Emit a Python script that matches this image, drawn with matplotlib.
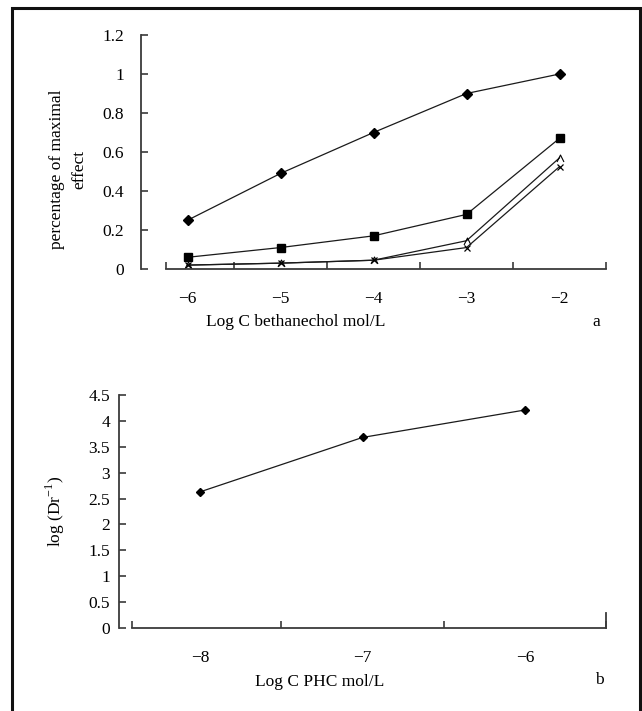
import numpy as np
import matplotlib
matplotlib.use("Agg")
import matplotlib.pyplot as plt
from matplotlib.patches import Rectangle
from matplotlib.path import Path

plt.rcParams['font.family'] = ['Liberation Serif', 'DejaVu Serif']
plt.rcParams['mathtext.fontset'] = 'custom'
plt.rcParams['mathtext.rm'] = 'Liberation Serif'
plt.rcParams['font.size'] = 12.5

# panel a: bethanechol concentration-response
cats_a = ["\u22126", "\u22125", "\u22124", "\u22123", "\u22122"]
s1 = [0.25, 0.49, 0.70, 0.90, 1.00]
s2 = [0.06, 0.11, 0.17, 0.28, 0.67]
s3 = [0.02, 0.03, 0.045, 0.145, 0.57]
s4 = [0.02, 0.03, 0.045, 0.11, 0.525]

# panel b: PHC
cats_b = ["\u22128", "\u22127", "\u22126"]
dr = [2.63, 3.68, 4.21]

W, H = 642, 711
fig = plt.figure(figsize=(W / 100, H / 100), dpi=100)

caret = Path([(-1, -1), (0, 1), (1, -1)], [Path.MOVETO, Path.LINETO, Path.LINETO])
axcol = '#3a3a3a'
lcol = '#1a1a1a'


def px(l, t, r, b):
    return [l / W, 1 - b / H, (r - l) / W, (b - t) / H]


def style(ax, n, yticks, ylim, ypad, start):
    ax.set_xlim(0.5, n + 0.5)
    ax.set_ylim(*ylim)
    for s in ['top', 'right']:
        ax.spines[s].set_visible(False)
    for s in ['left', 'bottom']:
        ax.spines[s].set_color(axcol)
        ax.spines[s].set_linewidth(1.3)
    ax.spines['bottom'].set_bounds(start, n + 0.5)
    ax.set_yticks(yticks)
    ax.set_yticklabels([f"{v:g}" for v in yticks])
    ax.tick_params(axis='y', direction='in', length=5, width=1.2, color=axcol, pad=ypad)
    x = np.arange(1, n + 1)
    ax.set_xticks(x)
    ax.tick_params(axis='x', which='major', length=0, pad=16)
    ax.set_xticks(list(np.arange(1.5, n + 0.6, 1.0)) + [start], minor=True)
    ax.tick_params(axis='x', which='minor', direction='in', length=5, width=1.2, color=axcol)
    ax.set_facecolor('none')
    return x


ax1 = fig.add_axes(px(141, 35, 606, 269))
x1 = style(ax1, 5, [0, 0.2, 0.4, 0.6, 0.8, 1, 1.2], (0, 1.2), 12, 0.77)
ax1.set_xticklabels(cats_a)
ax1.plot(x1, s1, color=lcol, lw=0.9, marker='D', ms=5, mfc='k', mec='k')
ax1.plot(x1, s2, color=lcol, lw=0.9, marker='s', ms=6, mfc='k', mec='k')
ax1.plot(x1, s3, color=lcol, lw=0.9, marker=caret, ms=5, mfc='none', mec='k', mew=0.8)
ax1.plot(x1, s4, color=lcol, lw=0.9, marker='x', ms=5, mec='k', mew=0.9)
for l in ax1.lines:
    l.set_clip_on(False)

ax2 = fig.add_axes(px(119, 395, 606, 628))
x2 = style(ax2, 3, [0, 0.5, 1, 1.5, 2, 2.5, 3, 3.5, 4, 4.5], (0, 4.5), 6.5, 0.58)
ax2.set_xticklabels(cats_b)
ax2.plot(x2, dr, color=lcol, lw=0.9, marker='D', ms=4.5, mfc='k', mec='k')
ax2.axvline(3.5, ymin=0, ymax=0.065, color=axcol, lw=1.3, clip_on=False)

# labels
fig.text(68 / W, 1 - 169 / H, "percentage of maximal\neffect", rotation=90,
         ha='center', va='center', multialignment='center', linespacing=1.5)
fig.text(296 / W, 1 - 322 / H, "Log C bethanechol mol/L", ha='center', va='center')
fig.text(596 / W, 1 - 322 / H, "a", ha='center', va='center')
fig.text(55 / W, 1 - 511 / H, "log (Dr$^{-1}$)", rotation=90, ha='center', va='center')
fig.text(320 / W, 1 - 682 / H, "Log C PHC mol/L", ha='center', va='center')
fig.text(599 / W, 1 - 680 / H, "b", ha='center', va='center')

# outer frame
fig.patches.append(Rectangle((12 / W, -0.05), (640 - 12) / W, 1.05 - 8 / H,
                             transform=fig.transFigure, fill=False,
                             edgecolor='#111', lw=2.2, clip_on=False))

fig.savefig("out.png", dpi=100)
